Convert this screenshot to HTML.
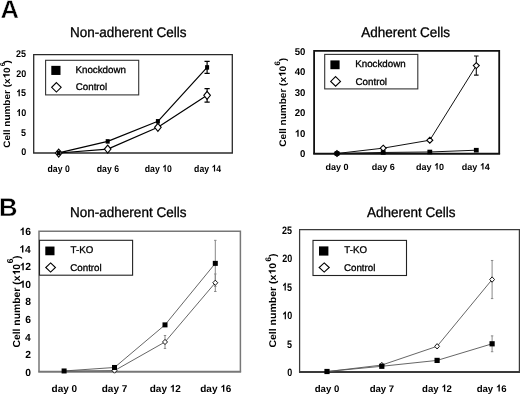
<!DOCTYPE html>
<html><head><meta charset="utf-8"><style>
html,body{margin:0;padding:0;background:#fff;width:520px;height:395px;overflow:hidden}
svg{display:block;font-family:"Liberation Sans", sans-serif;text-rendering:geometricPrecision;filter:grayscale(1)}
</style></head><body>
<svg width="520" height="395" viewBox="0 0 520 395" font-family='"Liberation Sans", sans-serif'>
<rect width="520" height="395" fill="#fff"/>
<text transform="translate(0.56,18.20)" font-size="25.5" font-weight="bold" fill="#000" stroke="#fff" stroke-width="0.45">A</text>
<text transform="translate(-0.88,216.30)" font-size="25.6" font-weight="bold" fill="#000" stroke="#fff" stroke-width="0.45">B</text>
<path d="M33.7 153.0 V54.6 H232.3 V153.0" fill="none" stroke="#2a2a2a" stroke-width="1.3" stroke-linejoin="miter"/>
<path d="M33.050000000000004 153.0 H232.95000000000002" stroke="#2a2a2a" stroke-width="1.6"/>
<text transform="translate(21.22,155.44) scale(1.0000,1.0800)" font-size="9.0" font-weight="bold" fill="#000" >0</text>
<text transform="translate(21.10,135.70) scale(1.0000,1.0800)" font-size="9.0" font-weight="bold" fill="#000" >5</text>
<text transform="translate(16.22,116.06) scale(1.0000,1.0800)" font-size="9.0" font-weight="bold" fill="#000" > 0</text><path transform="translate(16.22,116.06) scale(0.00439,-0.00475)" d="M842 0L567 0L567 1036C470 944 340 876 211 833L211 1081C290 1107 380 1160 470 1236C555 1310 605 1390 630 1466L842 1466Z" fill="#000"/>
<text transform="translate(16.11,96.32) scale(1.0000,1.0800)" font-size="9.0" font-weight="bold" fill="#000" > 5</text><path transform="translate(16.11,96.32) scale(0.00439,-0.00475)" d="M842 0L567 0L567 1036C470 944 340 876 211 833L211 1081C290 1107 380 1160 470 1236C555 1310 605 1390 630 1466L842 1466Z" fill="#000"/>
<text transform="translate(16.22,76.68) scale(1.0000,1.0800)" font-size="9.0" font-weight="bold" fill="#000" >20</text>
<text transform="translate(16.11,56.99) scale(1.0000,1.0800)" font-size="9.0" font-weight="bold" fill="#000" >25</text>
<text transform="translate(47.54,171.60) scale(1.0000,1.1000)" font-size="8.7" font-weight="bold" fill="#000" >day 0</text>
<text transform="translate(96.76,171.60) scale(1.0000,1.1000)" font-size="8.7" font-weight="bold" fill="#000" >day 6</text>
<text transform="translate(144.76,171.60) scale(1.0000,1.1000)" font-size="8.7" font-weight="bold" fill="#000" >day  0</text><path transform="translate(162.17,171.60) scale(0.00425,-0.00467)" d="M842 0L567 0L567 1036C470 944 340 876 211 833L211 1081C290 1107 380 1160 470 1236C555 1310 605 1390 630 1466L842 1466Z" fill="#000"/>
<text transform="translate(194.11,171.60) scale(1.0000,1.1000)" font-size="8.7" font-weight="bold" fill="#000" >day  4</text><path transform="translate(211.52,171.60) scale(0.00425,-0.00467)" d="M842 0L567 0L567 1036C470 944 340 876 211 833L211 1081C290 1107 380 1160 470 1236C555 1310 605 1390 630 1466L842 1466Z" fill="#000"/>
<g transform="translate(9.65,147.75) rotate(-90) scale(1.0729,1)"><text font-size="9.3" font-weight="bold" fill="#000">Cell number (x 0</text><path transform="translate(64.60,0.00) scale(0.00454,-0.00454)" d="M842 0L567 0L567 1036C470 944 340 876 211 833L211 1081C290 1107 380 1160 470 1236C555 1310 605 1390 630 1466L842 1466Z" fill="#000"/></g>
<text transform="translate(4.75,66.23) rotate(-90)" font-size="6.93" font-weight="bold" fill="#000">6</text>
<text transform="translate(9.65,63.57) rotate(-90) scale(1.0729,1)" font-size="9.3" font-weight="bold" fill="#000">)</text>
<text transform="translate(70.08,36.70) scale(1.0000,1.0400)" font-size="13.5" font-weight="normal" fill="#000" stroke="#000" stroke-width="0.3">Non-adherent Cells</text>
<rect x="45.6" y="60.3" width="93.10" height="34.60" fill="#fff" stroke="#333" stroke-width="1.1"/>
<rect x="51.30" y="65.85" width="9.2" height="9.1" fill="#000"/>
<path d="M56.4 82.55 L61.15 87.3 L56.4 92.05 L51.65 87.3 Z" fill="#fff" stroke="#000" stroke-width="1.1"/>
<text transform="translate(75.45,72.70)" font-size="9.75" font-weight="normal" fill="#000" stroke="#000" stroke-width="0.3">Knockdown</text>
<text transform="translate(75.76,90.30)" font-size="9.75" font-weight="normal" fill="#000" stroke="#000" stroke-width="0.3">Control</text>
<path d="M58.70 152.90 L107.70 141.40 L157.90 121.30 L207.10 67.41" fill="none" stroke="#000" stroke-width="1.2" stroke-linejoin="round"/>
<path d="M58.70 153.02 L107.70 149.08 L157.90 127.29 L207.10 95.34" fill="none" stroke="#000" stroke-width="1.2" stroke-linejoin="round"/>
<path d="M207.10 61.46 V73.35 M204.50 61.46 H209.70 M204.50 73.35 H209.70" stroke="#000" stroke-width="1.2" fill="none"/>
<path d="M207.10 88.60 V102.08 M204.50 88.60 H209.70 M204.50 102.08 H209.70" stroke="#000" stroke-width="1.2" fill="none"/>
<path d="M58.70 149.02 L62.00 153.02 L58.70 157.02 L55.40 153.02 Z" fill="#fff" stroke="#000" stroke-width="1.1"/>
<path d="M107.70 145.08 L111.00 149.08 L107.70 153.08 L104.40 149.08 Z" fill="#fff" stroke="#000" stroke-width="1.1"/>
<path d="M157.90 123.29 L161.20 127.29 L157.90 131.29 L154.60 127.29 Z" fill="#fff" stroke="#000" stroke-width="1.1"/>
<path d="M207.10 91.34 L210.40 95.34 L207.10 99.34 L203.80 95.34 Z" fill="#fff" stroke="#000" stroke-width="1.1"/>
<rect x="56.70" y="150.65" width="4" height="4.5" fill="#000"/>
<rect x="105.70" y="139.15" width="4" height="4.5" fill="#000"/>
<rect x="155.90" y="119.05" width="4" height="4.5" fill="#000"/>
<rect x="205.10" y="65.16" width="4" height="4.5" fill="#000"/>
<path d="M314.1 153.7 V50.9 H499.2 V153.7" fill="none" stroke="#111" stroke-width="1.8" stroke-linejoin="miter"/>
<path d="M313.20000000000005 153.7 H500.09999999999997" stroke="#111" stroke-width="2.0"/>
<text transform="translate(300.01,157.40) scale(1.0000,1.0300)" font-size="9.6" font-weight="bold" fill="#000" >0</text>
<text transform="translate(294.68,136.84) scale(1.0000,1.0300)" font-size="9.6" font-weight="bold" fill="#000" > 0</text><path transform="translate(294.68,136.84) scale(0.00469,-0.00483)" d="M842 0L567 0L567 1036C470 944 340 876 211 833L211 1081C290 1107 380 1160 470 1236C555 1310 605 1390 630 1466L842 1466Z" fill="#000"/>
<text transform="translate(294.68,116.28) scale(1.0000,1.0300)" font-size="9.6" font-weight="bold" fill="#000" >20</text>
<text transform="translate(294.68,95.71) scale(1.0000,1.0300)" font-size="9.6" font-weight="bold" fill="#000" >30</text>
<text transform="translate(294.68,75.16) scale(1.0000,1.0300)" font-size="9.6" font-weight="bold" fill="#000" >40</text>
<text transform="translate(294.68,54.60) scale(1.0000,1.0300)" font-size="9.6" font-weight="bold" fill="#000" >50</text>
<text transform="translate(325.55,169.50)" font-size="9.0" font-weight="bold" fill="#000" >day 0</text>
<text transform="translate(371.78,169.50)" font-size="9.0" font-weight="bold" fill="#000" >day 6</text>
<text transform="translate(415.99,169.50)" font-size="9.0" font-weight="bold" fill="#000" >day  0</text><path transform="translate(434.00,169.50) scale(0.00439,-0.00439)" d="M842 0L567 0L567 1036C470 944 340 876 211 833L211 1081C290 1107 380 1160 470 1236C555 1310 605 1390 630 1466L842 1466Z" fill="#000"/>
<text transform="translate(461.84,169.50)" font-size="9.0" font-weight="bold" fill="#000" >day  4</text><path transform="translate(479.85,169.50) scale(0.00439,-0.00439)" d="M842 0L567 0L567 1036C470 944 340 876 211 833L211 1081C290 1107 380 1160 470 1236C555 1310 605 1390 630 1466L842 1466Z" fill="#000"/>
<g transform="translate(285.60,146.65) rotate(-90) scale(1.0556,1)"><text font-size="9.5" font-weight="bold" fill="#000">Cell number (x 0</text><path transform="translate(65.99,0.00) scale(0.00464,-0.00464)" d="M842 0L567 0L567 1036C470 944 340 876 211 833L211 1081C290 1107 380 1160 470 1236C555 1310 605 1390 630 1466L842 1466Z" fill="#000"/></g>
<text transform="translate(279.75,65.61) rotate(-90)" font-size="7.92" font-weight="bold" fill="#000">6</text>
<text transform="translate(285.60,61.18) rotate(-90) scale(1.0556,1)" font-size="9.5" font-weight="bold" fill="#000">)</text>
<text transform="translate(361.34,36.70) scale(1.0000,1.0400)" font-size="13.5" font-weight="normal" fill="#000" stroke="#000" stroke-width="0.3">Adherent Cells</text>
<rect x="324.7" y="54.4" width="93.10" height="34.50" fill="#fff" stroke="#333" stroke-width="1.1"/>
<rect x="330.40" y="60.40" width="9.2" height="8.8" fill="#000"/>
<path d="M335.6 76.60000000000001 L340.5 81.4 L335.6 86.2 L330.70000000000005 81.4 Z" fill="#fff" stroke="#000" stroke-width="1.1"/>
<text transform="translate(355.25,66.80)" font-size="9.75" font-weight="normal" fill="#000" stroke="#000" stroke-width="0.3">Knockdown</text>
<text transform="translate(355.56,84.60)" font-size="9.75" font-weight="normal" fill="#000" stroke="#000" stroke-width="0.3">Control</text>
<path d="M337.00 153.49 L383.20 152.47 L429.80 151.99 L476.30 150.20" fill="none" stroke="#111" stroke-width="1.0" stroke-linejoin="round"/>
<path d="M337.00 153.49 L383.20 148.15 L429.80 140.19 L476.30 65.60" fill="none" stroke="#111" stroke-width="1.0" stroke-linejoin="round"/>
<path d="M476.30 56.04 V75.16 M474.00 56.04 H478.60 M474.00 75.16 H478.60" stroke="#111" stroke-width="1.1" fill="none"/>
<path d="M337.00 150.54 L340.00 153.49 L337.00 156.44 L334.00 153.49 Z" fill="#fff" stroke="#000" stroke-width="1.1"/>
<path d="M383.20 145.20 L386.20 148.15 L383.20 151.10 L380.20 148.15 Z" fill="#fff" stroke="#000" stroke-width="1.1"/>
<path d="M429.80 137.24 L432.80 140.19 L429.80 143.14 L426.80 140.19 Z" fill="#fff" stroke="#000" stroke-width="1.1"/>
<path d="M476.30 62.65 L479.30 65.60 L476.30 68.55 L473.30 65.60 Z" fill="#fff" stroke="#000" stroke-width="1.1"/>
<rect x="334.60" y="151.19" width="4.8" height="4.6" fill="#000"/>
<rect x="380.80" y="150.17" width="4.8" height="4.6" fill="#000"/>
<rect x="427.40" y="149.69" width="4.8" height="4.6" fill="#000"/>
<rect x="473.90" y="147.90" width="4.8" height="4.6" fill="#000"/>
<path d="M39.0 371.7 V231.3 H240.4 V371.7" fill="none" stroke="#777" stroke-width="1.5" stroke-linejoin="miter"/>
<path d="M38.25 371.7 H241.15" stroke="#777" stroke-width="1.9"/>
<text transform="translate(25.25,375.84)" font-size="10.3" font-weight="bold" fill="#000" >0</text>
<text transform="translate(25.25,358.28)" font-size="10.3" font-weight="bold" fill="#000" >2</text>
<text transform="translate(24.89,340.62)" font-size="10.3" font-weight="bold" fill="#000" >4</text>
<text transform="translate(25.19,323.00)" font-size="10.3" font-weight="bold" fill="#000" >6</text>
<text transform="translate(25.14,305.39)" font-size="10.3" font-weight="bold" fill="#000" >8</text>
<text transform="translate(19.53,287.78)" font-size="10.3" font-weight="bold" fill="#000" > 0</text><path transform="translate(19.53,287.78) scale(0.00503,-0.00503)" d="M842 0L567 0L567 1036C470 944 340 876 211 833L211 1081C290 1107 380 1160 470 1236C555 1310 605 1390 630 1466L842 1466Z" fill="#000"/>
<text transform="translate(19.53,270.22)" font-size="10.3" font-weight="bold" fill="#000" > 2</text><path transform="translate(19.53,270.22) scale(0.00503,-0.00503)" d="M842 0L567 0L567 1036C470 944 340 876 211 833L211 1081C290 1107 380 1160 470 1236C555 1310 605 1390 630 1466L842 1466Z" fill="#000"/>
<text transform="translate(19.17,252.55)" font-size="10.3" font-weight="bold" fill="#000" > 4</text><path transform="translate(19.17,252.55) scale(0.00503,-0.00503)" d="M842 0L567 0L567 1036C470 944 340 876 211 833L211 1081C290 1107 380 1160 470 1236C555 1310 605 1390 630 1466L842 1466Z" fill="#000"/>
<text transform="translate(19.48,234.94)" font-size="10.3" font-weight="bold" fill="#000" > 6</text><path transform="translate(19.48,234.94) scale(0.00503,-0.00503)" d="M842 0L567 0L567 1036C470 944 340 876 211 833L211 1081C290 1107 380 1160 470 1236C555 1310 605 1390 630 1466L842 1466Z" fill="#000"/>
<text transform="translate(51.57,391.80)" font-size="10.0" font-weight="bold" fill="#000" >day 0</text>
<text transform="translate(101.74,391.80)" font-size="10.0" font-weight="bold" fill="#000" >day 7</text>
<text transform="translate(149.74,391.80)" font-size="10.0" font-weight="bold" fill="#000" >day  2</text><path transform="translate(169.75,391.80) scale(0.00488,-0.00488)" d="M842 0L567 0L567 1036C470 944 340 876 211 833L211 1081C290 1107 380 1160 470 1236C555 1310 605 1390 630 1466L842 1466Z" fill="#000"/>
<text transform="translate(200.21,391.80)" font-size="10.0" font-weight="bold" fill="#000" >day  6</text><path transform="translate(220.22,391.80) scale(0.00488,-0.00488)" d="M842 0L567 0L567 1036C470 944 340 876 211 833L211 1081C290 1107 380 1160 470 1236C555 1310 605 1390 630 1466L842 1466Z" fill="#000"/>
<g transform="translate(20.00,347.57) rotate(-90) scale(1.0188,1)"><text font-size="10.2" font-weight="bold" fill="#000">Cell number (x 0</text><path transform="translate(70.85,0.00) scale(0.00498,-0.00498)" d="M842 0L567 0L567 1036C470 944 340 876 211 833L211 1081C290 1107 380 1160 470 1236C555 1310 605 1390 630 1466L842 1466Z" fill="#000"/></g>
<text transform="translate(13.35,263.16) rotate(-90)" font-size="8.48" font-weight="bold" fill="#000">6</text>
<text transform="translate(20.00,259.09) rotate(-90) scale(1.0188,1)" font-size="10.2" font-weight="bold" fill="#000">)</text>
<text transform="translate(70.08,217.10) scale(1.0000,1.0400)" font-size="13.5" font-weight="normal" fill="#000" stroke="#000" stroke-width="0.3">Non-adherent Cells</text>
<rect x="39.5" y="240.3" width="93.10" height="34.90" fill="#fff" stroke="#222" stroke-width="1.1"/>
<rect x="45.30" y="246.55" width="9.2" height="8.7" fill="#000"/>
<path d="M50.6 262.95 L55.45 267.5 L50.6 272.05 L45.75 267.5 Z" fill="#fff" stroke="#000" stroke-width="1.1"/>
<text transform="translate(70.53,253.20)" font-size="9.75" font-weight="normal" fill="#000" stroke="#000" stroke-width="0.3">T-KO</text>
<text transform="translate(70.26,270.50)" font-size="9.75" font-weight="normal" fill="#000" stroke="#000" stroke-width="0.3">Control</text>
<path d="M64.10 370.97 L114.50 367.47 L165.00 324.88 L215.30 263.37" fill="none" stroke="#555" stroke-width="0.9" stroke-linejoin="round"/>
<path d="M64.10 371.06 L114.50 370.62 L165.00 341.97 L215.30 282.74" fill="none" stroke="#555" stroke-width="0.9" stroke-linejoin="round"/>
<path d="M215.30 240.33 V286.42 M214.10 240.33 H216.50 M214.10 286.42 H216.50" stroke="#888" stroke-width="1.0" fill="none"/>
<path d="M165.00 335.49 V348.45 M163.80 335.49 H166.20 M163.80 348.45 H166.20" stroke="#888" stroke-width="1.0" fill="none"/>
<path d="M215.30 273.97 V291.50 M214.10 273.97 H216.50 M214.10 291.50 H216.50" stroke="#888" stroke-width="1.0" fill="none"/>
<path d="M114.50 368.02 L117.00 370.62 L114.50 373.22 L112.00 370.62 Z" fill="#fff" stroke="#000" stroke-width="0.9"/>
<path d="M165.00 339.37 L167.50 341.97 L165.00 344.57 L162.50 341.97 Z" fill="#fff" stroke="#000" stroke-width="0.9"/>
<path d="M215.30 280.14 L217.80 282.74 L215.30 285.34 L212.80 282.74 Z" fill="#fff" stroke="#000" stroke-width="0.9"/>
<rect x="61.60" y="368.47" width="5" height="5" fill="#000"/>
<rect x="112.00" y="364.97" width="5" height="5" fill="#000"/>
<rect x="162.50" y="322.38" width="5" height="5" fill="#000"/>
<rect x="212.80" y="260.87" width="5" height="5" fill="#000"/>
<path d="M299.6 371.9 V229.7 H519.4 V371.9" fill="none" stroke="#3a3a3a" stroke-width="1.25" stroke-linejoin="miter"/>
<path d="M298.975 371.9 H520.025" stroke="#3a3a3a" stroke-width="2.0"/>
<text transform="translate(287.22,376.21) scale(1.0000,1.2000)" font-size="9.0" font-weight="bold" fill="#000" >0</text>
<text transform="translate(287.10,347.62) scale(1.0000,1.2000)" font-size="9.0" font-weight="bold" fill="#000" >5</text>
<text transform="translate(282.22,319.13) scale(1.0000,1.2000)" font-size="9.0" font-weight="bold" fill="#000" > 0</text><path transform="translate(282.22,319.13) scale(0.00439,-0.00527)" d="M842 0L567 0L567 1036C470 944 340 876 211 833L211 1081C290 1107 380 1160 470 1236C555 1310 605 1390 630 1466L842 1466Z" fill="#000"/>
<text transform="translate(282.11,290.54) scale(1.0000,1.2000)" font-size="9.0" font-weight="bold" fill="#000" > 5</text><path transform="translate(282.11,290.54) scale(0.00439,-0.00527)" d="M842 0L567 0L567 1036C470 944 340 876 211 833L211 1081C290 1107 380 1160 470 1236C555 1310 605 1390 630 1466L842 1466Z" fill="#000"/>
<text transform="translate(282.22,262.05) scale(1.0000,1.2000)" font-size="9.0" font-weight="bold" fill="#000" >20</text>
<text transform="translate(282.11,233.51) scale(1.0000,1.2000)" font-size="9.0" font-weight="bold" fill="#000" >25</text>
<text transform="translate(314.74,391.50)" font-size="9.6" font-weight="bold" fill="#000" >day 0</text>
<text transform="translate(369.65,391.50)" font-size="9.6" font-weight="bold" fill="#000" >day 7</text>
<text transform="translate(422.06,391.50)" font-size="9.6" font-weight="bold" fill="#000" >day  2</text><path transform="translate(441.27,391.50) scale(0.00469,-0.00469)" d="M842 0L567 0L567 1036C470 944 340 876 211 833L211 1081C290 1107 380 1160 470 1236C555 1310 605 1390 630 1466L842 1466Z" fill="#000"/>
<text transform="translate(476.64,391.50)" font-size="9.6" font-weight="bold" fill="#000" >day  6</text><path transform="translate(495.85,391.50) scale(0.00469,-0.00469)" d="M842 0L567 0L567 1036C470 944 340 876 211 833L211 1081C290 1107 380 1160 470 1236C555 1310 605 1390 630 1466L842 1466Z" fill="#000"/>
<g transform="translate(275.60,347.57) rotate(-90) scale(1.0719,1)"><text font-size="9.8" font-weight="bold" fill="#000">Cell number (x 0</text><path transform="translate(68.07,0.00) scale(0.00479,-0.00479)" d="M842 0L567 0L567 1036C470 944 340 876 211 833L211 1081C290 1107 380 1160 470 1236C555 1310 605 1390 630 1466L842 1466Z" fill="#000"/></g>
<text transform="translate(271.05,261.45) rotate(-90)" font-size="8.06" font-weight="bold" fill="#000">6</text>
<text transform="translate(275.60,257.12) rotate(-90) scale(1.0719,1)" font-size="9.8" font-weight="bold" fill="#000">)</text>
<text transform="translate(367.04,217.10) scale(1.0000,1.0400)" font-size="13.5" font-weight="normal" fill="#000" stroke="#000" stroke-width="0.3">Adherent Cells</text>
<rect x="313.0" y="240.4" width="93.50" height="35.10" fill="#fff" stroke="#222" stroke-width="1.1"/>
<rect x="319.00" y="246.40" width="9.4" height="9.2" fill="#000"/>
<path d="M324.2 262.95 L329.25 267.5 L324.2 272.05 L319.15 267.5 Z" fill="#fff" stroke="#000" stroke-width="1.1"/>
<text transform="translate(344.23,253.40)" font-size="9.75" font-weight="normal" fill="#000" stroke="#000" stroke-width="0.3">T-KO</text>
<text transform="translate(343.96,270.80)" font-size="9.75" font-weight="normal" fill="#000" stroke="#000" stroke-width="0.3">Control</text>
<path d="M327.00 371.50 L381.80 366.27 L437.10 360.41 L492.10 343.80" fill="none" stroke="#555" stroke-width="0.9" stroke-linejoin="round"/>
<path d="M327.00 371.62 L381.80 365.07 L437.10 346.30 L492.10 279.53" fill="none" stroke="#555" stroke-width="0.9" stroke-linejoin="round"/>
<path d="M492.10 335.89 V351.71 M490.90 335.89 H493.30 M490.90 351.71 H493.30" stroke="#888" stroke-width="1.0" fill="none"/>
<path d="M492.10 260.47 V298.58 M490.90 260.47 H493.30 M490.90 298.58 H493.30" stroke="#888" stroke-width="1.0" fill="none"/>
<path d="M381.80 362.37 L384.20 365.07 L381.80 367.77 L379.40 365.07 Z" fill="#fff" stroke="#000" stroke-width="0.9"/>
<path d="M437.10 343.60 L439.50 346.30 L437.10 349.00 L434.70 346.30 Z" fill="#fff" stroke="#000" stroke-width="0.9"/>
<path d="M492.10 276.83 L494.50 279.53 L492.10 282.23 L489.70 279.53 Z" fill="#fff" stroke="#000" stroke-width="0.9"/>
<rect x="324.40" y="368.90" width="5.2" height="5.2" fill="#000"/>
<rect x="379.20" y="363.67" width="5.2" height="5.2" fill="#000"/>
<rect x="434.50" y="357.81" width="5.2" height="5.2" fill="#000"/>
<rect x="489.50" y="341.20" width="5.2" height="5.2" fill="#000"/>
</svg>
</body></html>
